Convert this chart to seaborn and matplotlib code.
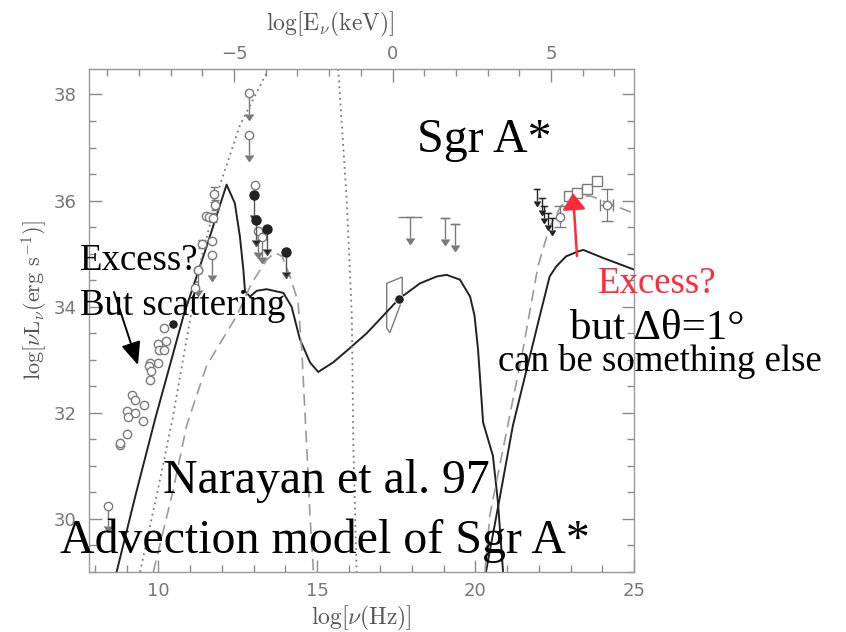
import numpy as np
import seaborn as sns
import matplotlib
matplotlib.use("Agg")
import matplotlib.pyplot as plt
from matplotlib.patches import Polygon
from matplotlib.ticker import MultipleLocator

sns.set_style("white", {'xtick.direction': 'in', 'ytick.direction': 'in'})
plt.rcParams['font.family'] = ['DejaVu Sans']
plt.rcParams['mathtext.fontset'] = 'cm'

# log(h/keV): log nu -> log E(keV)
LOG_H_KEV = 17.383

# %% model curves
sync_x = [8.68, 9.3, 9.89, 10.8, 11.5, 12.15, 12.41, 12.57, 12.68, 12.73, 12.89, 13.1, 13.41,
          13.94, 14.2, 14.46, 14.78, 15.04, 15.51, 16.0, 16.57, 17.09, 17.59, 18.25, 18.78,
          19.09, 19.51, 19.83, 19.97, 20.08, 20.24, 20.55, 20.71, 20.87]
sync_y = [29.0, 30.5, 31.87, 33.85, 35.1, 36.3, 35.95, 35.32, 34.69, 34.29, 34.19, 34.3, 34.33,
          34.26, 34.0, 33.39, 32.95, 32.77, 32.95, 33.2, 33.5, 33.83, 34.15, 34.44, 34.57,
          34.6, 34.51, 34.19, 33.83, 33.2, 31.82, 31.19, 30.31, 29.0]

comp_x = [20.33, 20.76, 21.18, 22.03, 22.34, 22.55, 22.86, 23.23, 23.4, 24.02, 25.0]
comp_y = [29.0, 30.38, 31.76, 33.83, 34.57, 34.76, 34.95, 35.04, 35.07, 34.92, 34.70]

dash1_x = [9.84, 10.47, 10.89, 11.52, 12.47, 12.94, 13.41, 13.67, 13.9, 14.15, 14.4, 14.52,
           14.68, 14.78, 14.89]
dash1_y = [29.0, 30.56, 31.76, 32.89, 33.83, 34.44, 34.88, 35.02, 34.95, 34.57, 34.1, 33.2,
           31.32, 30.06, 29.0]

dash2_x = [20.3, 20.45, 20.87, 21.5, 21.97, 22.34, 22.7, 23.2, 23.67, 24.45, 25.0]
dash2_y = [29.0, 30.06, 31.32, 33.2, 34.76, 35.51, 35.9, 36.1, 36.08, 35.89, 35.76]

dot1_x = [9.42, 10.0, 10.45, 11.0, 11.36, 11.94, 12.57, 13.46]
dot1_y = [29.0, 30.6, 31.9, 33.76, 34.93, 36.29, 37.42, 38.46]

dot2_x = [15.67, 15.94, 16.1, 16.15, 16.25]
dot2_y = [38.48, 36.0, 33.83, 31.32, 29.0]

# %% data points
radio_x = [10.17, 10.23, 9.99, 10.03, 10.17, 9.99, 9.74, 9.71, 9.75, 9.74, 9.18, 9.26, 9.53,
           9.00, 9.26, 9.04, 9.52, 9.00, 8.79, 8.79, 11.15, 11.25, 11.36, 11.50, 11.60,
           11.73, 11.79, 11.75, 11.68, 13.04]
radio_y = [33.59, 33.36, 33.30, 33.18, 33.18, 32.94, 32.93, 32.88, 32.79, 32.62, 32.34, 32.24,
           32.15, 32.03, 31.99, 31.92, 31.85, 31.60, 31.39, 31.43, 34.35, 34.70, 35.18, 35.71,
           35.70, 35.68, 35.92, 36.12, 35.24, 36.30]
radio_err = [0, 0, 0, 0, 0, 0, 0, 0, 0, 0, 0, 0, 0, 0, 0, 0, 0, 0, 0, 0, 0, 0, 0.08, 0, 0,
             0.08, 0.1, 0.14, 0, 0]

open_lim_x = [8.40, 11.68, 11.25, 12.86, 12.86, 13.15, 13.26]
open_lim_y = [30.25, 34.97, 34.70, 38.02, 37.24, 35.42, 35.32]

filled_x = [10.46]
filled_y = [33.67]
filled_lim_x = [13.02, 13.08, 13.41, 14.02]
filled_lim_y = [36.11, 35.64, 35.47, 35.04]

xray_lim_x = [17.93, 19.04, 19.35]
xray_lim_y = [35.69, 35.67, 35.56]
xray_lim_w = [0.37, 0.16, 0.16]

bow_x = [17.20, 17.69, 17.69, 17.30, 17.20, 17.20]
bow_y = [34.44, 34.56, 34.13, 33.51, 33.60, 34.44]
chandra_x = [17.59]
chandra_y = [34.15]

gam_lim_x = [21.93, 22.09, 22.17, 22.28, 22.42]
gam_lim_y = [36.22, 36.05, 35.89, 35.76, 35.67]

egret_x = [22.96, 23.21, 23.51, 23.82]
egret_y = [36.08, 36.14, 36.22, 36.36]

gam_pt_x = [22.67, 24.14]
gam_pt_y = [35.70, 35.91]
gam_pt_err = [0.2, 0.3]
gam_pt_xerr = [0.0, 0.2]

# %% figure
W, H = 846, 632
fig = plt.figure(figsize=(W / 100, H / 100), dpi=100)
ax = fig.add_axes([89 / W, 60 / H, 545 / W, 503 / H])

ink = '#222222'
grey = '#7a7a7a'

sns.lineplot(x=sync_x, y=sync_y, sort=False, estimator=None, color=ink, lw=1.4, ax=ax)
sns.lineplot(x=comp_x, y=comp_y, sort=False, estimator=None, color=ink, lw=1.4, ax=ax)
sns.lineplot(x=dash1_x, y=dash1_y, sort=False, estimator=None, color='#9a9a9a', lw=1.2,
             ax=ax).lines[-1].set_dashes((7, 4))
sns.lineplot(x=dash2_x, y=dash2_y, sort=False, estimator=None, color='#9a9a9a', lw=1.2,
             ax=ax).lines[-1].set_dashes((7, 4))
sns.lineplot(x=dot1_x, y=dot1_y, sort=False, estimator=None, color=grey, lw=1.3,
             ax=ax).lines[-1].set_dashes((1, 2.2))
sns.lineplot(x=dot2_x, y=dot2_y, sort=False, estimator=None, color=grey, lw=1.3,
             ax=ax).lines[-1].set_dashes((1, 2.2))

# radio / mm points
ax.errorbar(radio_x, radio_y, yerr=radio_err, fmt='o', color=grey, ms=6, mfc='white',
            mec=grey, mew=1.0, ecolor=grey, elinewidth=0.9, capsize=3, zorder=4)
ax.errorbar(open_lim_x, open_lim_y, yerr=0.38, uplims=True, fmt='o', color=grey, ms=6,
            mfc='white', mec=grey, mew=1.0, ecolor=grey, elinewidth=1.0, capsize=3,
            zorder=4)
sns.scatterplot(x=filled_x, y=filled_y, color=ink, s=45, ax=ax, zorder=5)
ax.errorbar(filled_lim_x, filled_lim_y, yerr=0.38, uplims=True, fmt='o', color=ink,
            ms=6.5, mfc=ink, mec=ink, ecolor='#555555', elinewidth=1.0, capsize=3,
            zorder=5)

# X-ray
ax.errorbar(xray_lim_x, xray_lim_y, xerr=xray_lim_w, fmt='none', ecolor=grey,
            elinewidth=1.0, capsize=0)
ax.errorbar(xray_lim_x, xray_lim_y, yerr=0.4, uplims=True, fmt='none', color=grey,
            ecolor=grey, elinewidth=1.0, capsize=3)
ax.add_patch(Polygon(np.column_stack([bow_x, bow_y]), closed=True, fill=False,
                     ec=grey, lw=1.0))
sns.scatterplot(x=chandra_x, y=chandra_y, color=ink, s=45, ax=ax, zorder=5)

# gamma rays
ax.errorbar(gam_lim_x, gam_lim_y, xerr=0.12, fmt='none', ecolor=grey, elinewidth=1.0,
            capsize=0)
ax.errorbar(gam_lim_x, gam_lim_y, yerr=0.22, uplims=True, fmt='none', color=ink,
            ecolor=ink, elinewidth=1.0, capsize=2.5)
ax.errorbar(egret_x, egret_y, yerr=0.07, fmt='s', color=grey, ms=7, mfc='white', mec=grey,
            mew=1.0, ecolor=grey, elinewidth=0.9, capsize=2)
sns.scatterplot(x=egret_x, y=egret_y, marker='o', s=14, fc='none', ec=grey, lw=0.8, ax=ax)
ax.errorbar(gam_pt_x, gam_pt_y, yerr=gam_pt_err, xerr=gam_pt_xerr, fmt='o', color=grey,
            ms=6, mfc='white', mec=grey, mew=1.0, ecolor=grey, elinewidth=0.9, capsize=4)

# %% axes
ax.set_xlim(7.81, 25.0)
ax.set_ylim(29.0, 38.48)
ax.xaxis.set_major_locator(MultipleLocator(5))
ax.xaxis.set_minor_locator(MultipleLocator(1))
ax.yaxis.set_major_locator(MultipleLocator(2))
ax.yaxis.set_minor_locator(MultipleLocator(0.5))
ax.tick_params(which='both', direction='in', colors='#8a8a8a', labelcolor='#777777',
               left=True, right=True, bottom=True, top=False, labelsize=13)
ax.tick_params(which='major', length=9, width=1.0)
ax.tick_params(axis='y', which='major', pad=9)
ax.tick_params(axis='x', which='major', pad=7)
ax.tick_params(which='minor', length=5, width=1.0)
for sp in ax.spines.values():
    sp.set_color('#9a9a9a')
    sp.set_linewidth(1.0)

ax.set_xlabel(r'$\log[\nu({\rm Hz})]$', fontsize=17, color='#555555', labelpad=3)
ax.set_ylabel(r'$\log[\nu {\rm L}_\nu({\rm erg\ s^{-1}})]$', fontsize=16, color='#555555')
ax.yaxis.set_label_coords(-0.072, 0.54)

top = ax.secondary_xaxis('top', functions=(lambda x: x - LOG_H_KEV,
                                           lambda e: e + LOG_H_KEV))
top.xaxis.set_major_locator(MultipleLocator(5))
top.xaxis.set_minor_locator(MultipleLocator(1))
top.tick_params(which='both', direction='in', colors='#8a8a8a', labelcolor='#777777',
                labelsize=13)
top.tick_params(which='major', length=9, width=1.0, pad=4)
top.tick_params(which='minor', length=5, width=1.0)
top.spines['top'].set_color('#9a9a9a')
top.set_xlabel(r'$\log[{\rm E}_\nu({\rm keV})]$', fontsize=17, color='#555555', labelpad=11)
top.xaxis.label.set_x(0.442)

# %% overlay annotations
serif = ['Liberation Serif', 'DejaVu Serif']


def ftext(px, py, s, size, color='black'):
    fig.text(px / W, 1 - py / H, s, fontsize=size, color=color, family=serif,
             ha='left', va='baseline')


ftext(417, 152, 'Sgr A*', 34.5)
ftext(80, 270, 'Excess?', 26.5)
ftext(80, 315, 'But scattering', 26.5)
ftext(163, 493, 'Narayan et al. 97', 34.5)
ftext(60, 553, 'Advection model of Sgr A*', 34.5)
ftext(598, 293, 'Excess?', 26.5, color='#ff2a3a')
ftext(570, 339, 'but \u0394\u03b8=1\u00b0', 31)
ftext(498, 371, 'can be something else', 26.5)

ax.annotate('', xy=(138 / W, 1 - 365 / H), xytext=(114 / W, 1 - 292 / H),
            xycoords='figure fraction', textcoords='figure fraction',
            arrowprops=dict(arrowstyle='-|>,head_length=1.4,head_width=0.6',
                            mutation_scale=10, color='black', lw=1.4,
                            shrinkA=0, shrinkB=0))
ax.annotate('', xy=(573 / W, 1 - 193 / H), xytext=(577 / W, 1 - 256 / H),
            xycoords='figure fraction', textcoords='figure fraction',
            arrowprops=dict(arrowstyle='-|>,head_length=1.0,head_width=0.7',
                            mutation_scale=10, color='#ff2a3a', lw=1.8,
                            shrinkA=0, shrinkB=0))

fig.savefig('out.png', dpi=100)
